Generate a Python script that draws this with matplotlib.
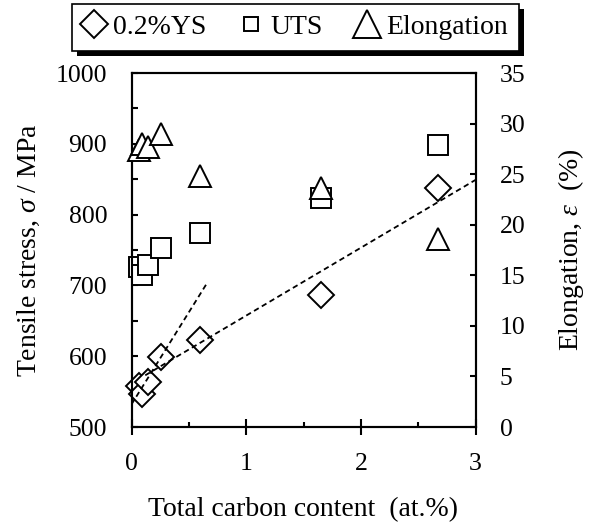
import matplotlib
matplotlib.use('Agg')
import matplotlib.pyplot as plt
from matplotlib.lines import Line2D
from matplotlib.patches import Rectangle
from matplotlib.ticker import MultipleLocator

plt.rcParams['font.family'] = ['Liberation Serif', 'DejaVu Serif']
plt.rcParams['mathtext.fontset'] = 'custom'
plt.rcParams['mathtext.rm'] = 'Liberation Serif'
plt.rcParams['mathtext.it'] = 'Liberation Serif:italic'

# Datos
carbono = [0.065, 0.095, 0.145, 0.255, 0.6, 1.65, 2.67]
ys02 = [558, 547, 563, 599, 623, 686, 837]
uts = [726, 714, 729, 753, 774, 823, 898]
elongacion = [27.4, 28.0, 27.7, 29.0, 24.8, 23.6, 18.6]

# líneas de tendencia (extremos)
tend1_x = [0.0, 0.65]
tend1_y = [532, 701]
tend2_x = [0.12, 3.0]
tend2_y = [573, 849]

fig = plt.figure(figsize=(5.91, 5.24), dpi=100)
ax = fig.add_axes([131.5 / 591, 1 - 427 / 524, 344 / 591, 354 / 524])
ax2 = ax.twinx()

mk = dict(linestyle='none', markerfacecolor='white', markeredgecolor='black',
          markeredgewidth=1.4, clip_on=False)

ax.plot(tend1_x, tend1_y, color='black', lw=1.3, dashes=(3, 2), zorder=4)
ax.plot(tend2_x, tend2_y, color='black', lw=1.3, dashes=(3, 2), zorder=4)
ax.plot(carbono, ys02, marker='D', markersize=13.5, zorder=3, **mk)
ax.plot(carbono, uts, marker='s', markersize=14.4, zorder=3, **mk)
ax2.plot(carbono, elongacion, marker='^', markersize=16, zorder=3, **mk)

ax.set_xlim(0, 3)
ax.set_ylim(500, 1000)
ax2.set_ylim(0, 35)

ax.xaxis.set_major_locator(MultipleLocator(1))
ax.xaxis.set_minor_locator(MultipleLocator(0.5))
ax.yaxis.set_major_locator(MultipleLocator(100))
ax.yaxis.set_minor_locator(MultipleLocator(50))
ax2.yaxis.set_major_locator(MultipleLocator(5))

fs_tick = 18.5
ax.tick_params(axis='x', which='major', direction='inout', length=11.5, width=1.5,
               labelsize=fs_tick, pad=13, top=False)
ax.tick_params(axis='x', which='minor', direction='in', length=3.6, width=1.5, top=False)
ax.tick_params(axis='y', which='both', direction='in', length=4.3, width=1.5,
               labelsize=fs_tick, pad=17.5, right=False)
ax2.tick_params(axis='y', which='major', direction='in', length=4.3, width=1.5,
                labelsize=fs_tick, pad=17.5)

for a in (ax, ax2):
    for s in a.spines.values():
        s.set_linewidth(1.5)

ax.set_xlabel('Total carbon content  (at.%)', fontsize=20, labelpad=16)
ax.set_ylabel(r'Tensile stress, $\sigma$ / MPa', fontsize=20, labelpad=10)
ax2.set_ylabel(r'Elongation, $\varepsilon$  (%)', fontsize=20, rotation=90, labelpad=22)

# leyenda con sombra negra
handles = [
    Line2D([], [], marker='D', markersize=14, **mk),
    Line2D([], [], marker='s', markersize=10, **mk),
    Line2D([], [], marker='^', markersize=20, **mk),
]
leg = fig.legend(handles, ['0.2%YS', 'UTS', 'Elongation'], loc='upper center',
                 bbox_to_anchor=(0.5, 1 - 4 / 524), ncol=3, fontsize=20,
                 frameon=True, fancybox=False, edgecolor='black', framealpha=1,
                 handlelength=0.8, handletextpad=0.3, columnspacing=1.2,
                 borderpad=0.38, borderaxespad=0)
leg.get_frame().set_linewidth(1.2)

fig.canvas.draw()
bb = leg.get_window_extent()
sombra = Rectangle((bb.x0 + 5, bb.y0 - 5), bb.width, bb.height, transform=None,
                   facecolor='black', edgecolor='none', zorder=-1)
fig.patches.append(sombra)
leg.set_zorder(5)

fig.savefig('out.png', dpi=100)
